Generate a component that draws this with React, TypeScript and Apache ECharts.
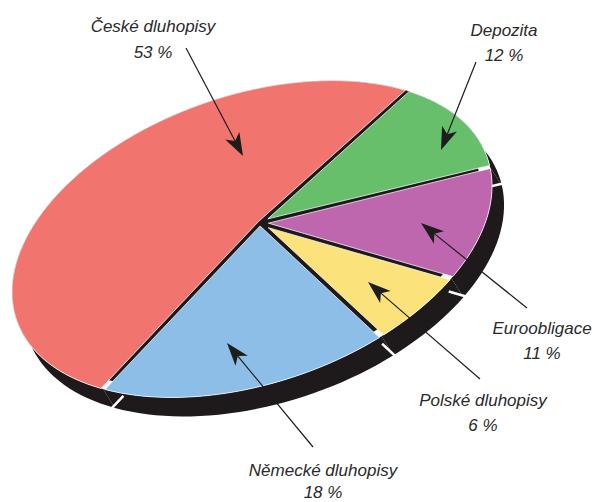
import React, { useEffect, useRef } from "react";
import * as echarts from "echarts";

const categories = ["České dluhopisy", "Depozita", "Euroobligace", "Polské dluhopisy", "Německé dluhopisy"];
const shares = [53, 12, 11, 6, 18];
const sliceColors = ["#F1756E", "#67BE6B", "#BE67AE", "#FBE27A", "#8CBEE8"];
const labelCenters = [
  [153, 26, 52],
  [504, 30, 55],
  [542, 328, 353],
  [483, 400, 425],
  [323, 470, 492],
];
const arrows = [
  [186, 48, 243, 156],
  [476, 62, 441, 150],
  [527, 308, 421, 223],
  [480, 379, 368, 282],
  [313, 447, 227, 343],
];

const DARK = "#1E1A1C";
const CX = 252, CY = 239, RA = 249, RB = 144, TILT = (19 * Math.PI) / 180;
const APEX: [number, number] = [260, 223];
const START = -224.6;
const WR = 0.05, WA = (-90 * Math.PI) / 180;
const DEPTH: [number, number] = [12, 19];
const GAP = 2.1;

function warp(deg: number) {
  const t = (deg * Math.PI) / 180;
  const zr = Math.cos(t), zi = Math.sin(t);
  const wr = WR * Math.cos(WA), wi = WR * Math.sin(WA);
  const nr = zr + wr, ni = zi + wi;
  const dr = 1 + wr * zr + wi * zi, di = wr * zi - wi * zr;
  return Math.atan2(ni * dr - nr * di, nr * dr + ni * di);
}
function rimAt(t: number): [number, number] {
  const u = RA * Math.cos(t), v = RB * Math.sin(t);
  const c = Math.cos(TILT), s = Math.sin(TILT);
  return [CX + u * c + v * s, CY - u * s + v * c];
}
function bounds(i: number): [number, number] {
  let a = START;
  for (let k = 0; k < i; k++) a += (shares[k] / 100) * 360;
  const b = a + (shares[i] / 100) * 360;
  let ta = warp(a), tb = warp(b);
  while (tb <= ta) tb += Math.PI * 2;
  return [ta, tb];
}
function arc(ta: number, tb: number) {
  const n = Math.max(4, Math.ceil((tb - ta) / 0.04));
  const out: [number, number][] = [];
  for (let i = 0; i <= n; i++) out.push(rimAt(ta + ((tb - ta) * i) / n));
  return out;
}
function unit(a: [number, number], b: [number, number]): [number, number] {
  const dx = b[0] - a[0], dy = b[1] - a[1];
  const l = Math.hypot(dx, dy) || 1;
  return [dx / l, dy / l];
}
function facePoints(i: number) {
  const [ta, tb] = bounds(i);
  const inset = GAP / 200;
  const pts = arc(ta + inset, tb - inset);
  const u1 = unit(APEX, pts[0]);
  const u2 = unit(APEX, pts[pts.length - 1]);
  const cross = u1[0] * u2[1] - u1[1] * u2[0];
  const dot = u1[0] * u2[0] + u1[1] * u2[1];
  let sweep = Math.atan2(cross, dot);
  if (sweep < 0) sweep += Math.PI * 2;
  let bx = u1[0] + u2[0], by = u1[1] + u2[1];
  const bl = Math.hypot(bx, by) || 1;
  bx /= bl; by /= bl;
  if (sweep > Math.PI) { bx = -bx; by = -by; }
  const d = GAP / Math.sin(sweep / 2);
  return [[APEX[0] + bx * d, APEX[1] + by * d], ...pts];
}

const renderDark = (params: any) => {
  const i = params.dataIndex;
  const [ta, tb] = bounds(i);
  const front = arc(ta, tb);
  const back = front.map((p) => [p[0] + DEPTH[0], p[1] + DEPTH[1]]).reverse();
  const children: any[] = [
    { type: "polygon", shape: { points: [...front, ...back] }, style: { fill: DARK } },
  ];
  if (i === 0) {
    const disc = arc(0, Math.PI * 2).map((p) => [
      APEX[0] + (p[0] - APEX[0]) * 0.95,
      APEX[1] + (p[1] - APEX[1]) * 0.95,
    ]);
    children.unshift({ type: "polygon", shape: { points: disc }, style: { fill: DARK } });
  }
  return { type: "group", children };
};

const renderNotch = (params: any) => {
  const [ta] = bounds(params.dataIndex);
  const p = rimAt(ta);
  const r = unit(APEX, p);
  const m = [p[0] + DEPTH[0] * 0.9, p[1] + DEPTH[1] * 0.9];
  return {
    type: "line",
    shape: { x1: m[0] - r[0] * 14, y1: m[1] - r[1] * 14, x2: m[0] + r[0] * 14, y2: m[1] + r[1] * 14 },
    style: { stroke: "#FFFFFF", lineWidth: 2.5 },
  };
};

const renderFace = (params: any) => ({
  type: "polygon",
  shape: { points: facePoints(params.dataIndex) },
  style: { fill: sliceColors[params.dataIndex], stroke: "rgba(255,255,255,0.75)", lineWidth: 1, lineJoin: "round" },
});

function arrowGraphics(a: number[]) {
  const [x0, y0, x1, y1] = a;
  const l = Math.hypot(x1 - x0, y1 - y0);
  const ux = (x1 - x0) / l, uy = (y1 - y0) / l;
  const nx = -uy, ny = ux;
  const len = 23, half = 8, notch = 17;
  return [
    {
      type: "line",
      z: 10,
      shape: { x1: x0, y1: y0, x2: x1 - ux * notch, y2: y1 - uy * notch },
      style: { stroke: "#1D1D1B", lineWidth: 1.2 },
    },
    {
      type: "polygon",
      z: 10,
      shape: {
        points: [
          [x1, y1],
          [x1 - ux * len + nx * half, y1 - uy * len + ny * half],
          [x1 - ux * notch, y1 - uy * notch],
          [x1 - ux * len - nx * half, y1 - uy * len - ny * half],
        ],
      },
      style: { fill: "#1D1D1B" },
    },
  ];
}

function labelGraphics(i: number) {
  const [x, y1, y2] = labelCenters[i];
  const font = {
    fontFamily: '"Liberation Sans Narrow", "Liberation Sans", sans-serif',
    fontStyle: "italic",
    fontSize: 17,
    fill: "#2A2A2A",
    textAlign: "center",
    textVerticalAlign: "middle",
  };
  return [
    { type: "text", z: 10, x, y: y1, style: { ...font, text: categories[i] } },
    { type: "text", z: 10, x, y: y2, style: { ...font, text: `${shares[i]} %` } },
  ];
}

export default function App() {
  const ref = useRef<HTMLDivElement>(null);
  useEffect(() => {
    document.body.style.margin = "0";
    const chart = echarts.init(ref.current!, null, { renderer: "svg" });
    const data = shares.map((v, i) => ({ name: categories[i], value: v }));
    chart.setOption({
      animation: false,
      backgroundColor: "#FFFFFF",
      series: [
        { type: "custom", coordinateSystem: "none", renderItem: renderDark, data, z: 1, silent: true },
        { type: "custom", coordinateSystem: "none", renderItem: renderNotch, data, z: 2, silent: true },
        { type: "custom", coordinateSystem: "none", renderItem: renderFace, data, z: 3, silent: true },
      ],
      graphic: {
        elements: [
          ...arrows.flatMap(arrowGraphics),
          ...categories.flatMap((_, i) => labelGraphics(i)),
        ],
      },
    });
    return () => chart.dispose();
  }, []);
  return <div ref={ref} style={{ width: 597, height: 502 }} />;
}
